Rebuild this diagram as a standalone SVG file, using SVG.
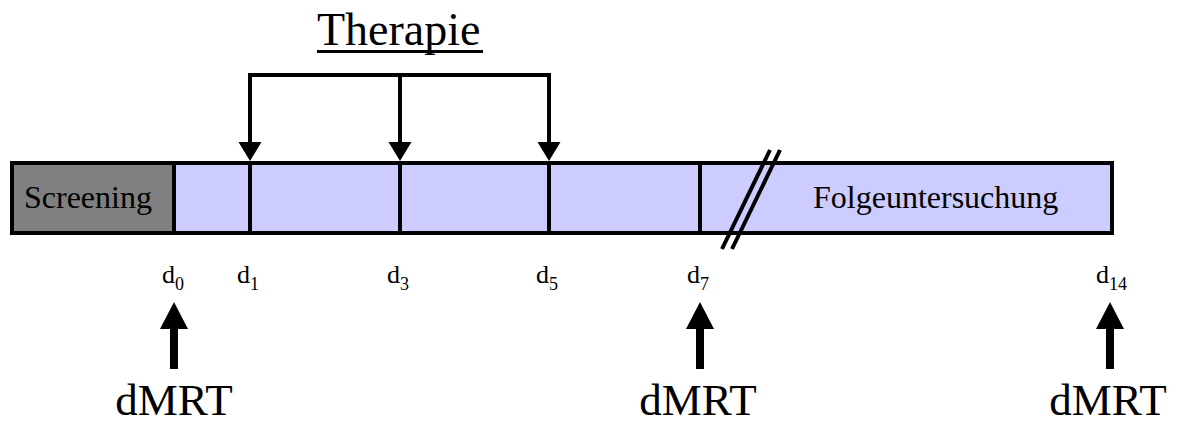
<svg xmlns="http://www.w3.org/2000/svg" width="1180" height="425" viewBox="0 0 1180 425">
  <style>
    text { font-family: "Liberation Serif", "Times New Roman", serif; fill: #000; }
    .lbl { font-size: 32px; }
    .day { font-size: 26px; }
    .sub { font-size: 18px; }
    .big { font-size: 45px; text-anchor: middle; }
    .ln { stroke: #000; stroke-width: 4; fill: none; }
    .tri { fill: #000; }
  </style>

  <!-- timeline bar -->
  <g id="timeline">
    <rect x="12" y="163" width="1100" height="70" fill="#ccccff" stroke="#000" stroke-width="4"/>
  </g>
  <g id="screening">
    <rect x="12" y="163" width="162" height="70" fill="#808080" stroke="#000" stroke-width="4"/>
    <text class="lbl" x="24" y="208">Screening</text>
  </g>
  <g id="day-dividers">
    <line class="ln" x1="250" y1="163" x2="250" y2="233"/>
    <line class="ln" x1="400" y1="163" x2="400" y2="233"/>
    <line class="ln" x1="549" y1="163" x2="549" y2="233"/>
    <line class="ln" x1="700" y1="163" x2="700" y2="233"/>
  </g>
  <g id="break">
    <line class="ln" x1="722" y1="249" x2="770" y2="150"/>
    <line class="ln" x1="732" y1="249" x2="780" y2="150"/>
  </g>
  <g id="followup">
    <text class="lbl" x="813" y="208">Folgeuntersuchung</text>
  </g>

  <!-- therapy label -->
  <g id="therapie">
    <text x="317" y="45" style="font-size:46px">Therapie</text>
    <rect x="317" y="50" width="166" height="3" fill="#000"/>
  </g>

  <!-- connectors -->
  <g id="connectors">
    <polyline class="ln" points="250,142 250,75 549,75 549,142"/>
    <line class="ln" x1="400" y1="75" x2="400" y2="142"/>
    <polygon class="tri" points="238.5,142 261.5,142 250,161"/>
    <polygon class="tri" points="388.5,142 411.5,142 400,161"/>
    <polygon class="tri" points="537.5,142 560.5,142 549,161"/>

    <rect x="170" y="327" width="8" height="42" fill="#000"/>
    <polygon class="tri" points="160,329 188,329 174,302"/>
    <rect x="696" y="327" width="8" height="42" fill="#000"/>
    <polygon class="tri" points="686,329 714,329 700,302"/>
    <rect x="1106" y="327" width="8" height="42" fill="#000"/>
    <polygon class="tri" points="1096,329 1124,329 1110,302"/>
  </g>

  <!-- day labels -->
  <g id="days">
    <text class="day" x="162" y="283">d<tspan class="sub" dy="7">0</tspan></text>
    <text class="day" x="237" y="283">d<tspan class="sub" dy="7">1</tspan></text>
    <text class="day" x="387" y="283">d<tspan class="sub" dy="7">3</tspan></text>
    <text class="day" x="536" y="283">d<tspan class="sub" dy="7">5</tspan></text>
    <text class="day" x="687" y="283">d<tspan class="sub" dy="7">7</tspan></text>
    <text class="day" x="1096" y="283">d<tspan class="sub" dy="7">14</tspan></text>
  </g>

  <!-- imaging time points -->
  <g id="dmrt-0"><text class="big" x="174" y="415">dMRT</text></g>
  <g id="dmrt-7"><text class="big" x="698" y="415">dMRT</text></g>
  <g id="dmrt-14"><text class="big" x="1108" y="415">dMRT</text></g>
</svg>
